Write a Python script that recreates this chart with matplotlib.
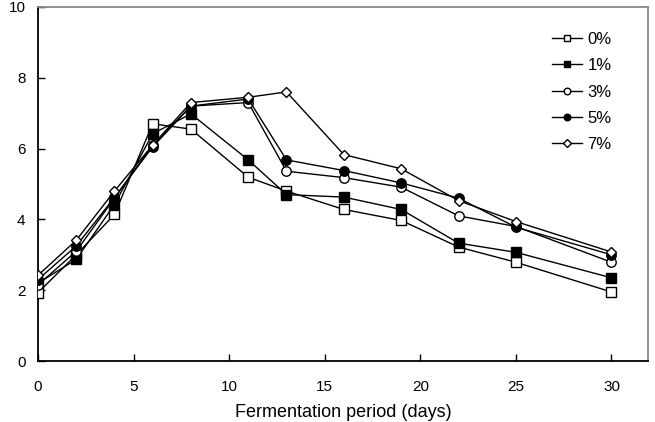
import matplotlib
matplotlib.use("Agg")
import matplotlib.pyplot as plt

plt.rcParams['font.family'] = ['Liberation Sans', 'DejaVu Sans']

days = [0, 2, 4, 6, 8, 11, 13, 16, 19, 22, 25, 30]
s0 = [1.93, 3.0, 4.14, 6.7, 6.55, 5.19, 4.8, 4.28, 3.97, 3.22, 2.79, 1.95]
s1 = [2.2, 2.87, 4.42, 6.42, 6.98, 5.68, 4.7, 4.63, 4.28, 3.33, 3.07, 2.35]
s3 = [2.15, 3.1, 4.6, 6.1, 7.2, 7.3, 5.36, 5.18, 4.91, 4.1, 3.8, 2.79]
s5 = [2.3, 3.25, 4.62, 6.05, 7.2, 7.4, 5.68, 5.38, 5.03, 4.6, 3.78, 3.0]
s7 = [2.42, 3.41, 4.8, 6.1, 7.3, 7.45, 7.6, 5.83, 5.43, 4.53, 3.94, 3.08]
labels = ['0%', '1%', '3%', '5%', '7%']
xticks = [0, 5, 10, 15, 20, 25, 30]
yticks = [0, 2, 4, 6, 8, 10]

fig = plt.figure(figsize=(6.55, 4.22), dpi=100)
ax = fig.add_axes([0.058, 0.1445, 0.931, 0.839])

styles = [
    dict(marker='s', mfc='white', ms=6.8),
    dict(marker='s', mfc='black', ms=6.8),
    dict(marker='o', mfc='white', ms=6.8),
    dict(marker='o', mfc='black', ms=6.8),
    dict(marker='D', mfc='white', ms=5.2),
]
for ys, lab, st in zip([s0, s1, s3, s5, s7], labels, styles):
    ax.plot(days, ys, color='black', lw=1.0, mec='black', mew=1.0, label=lab,
            zorder=3, **st)

ax.set_xlim(0, 31.9)
ax.set_ylim(0, 10)
ax.set_xticks(xticks)
ax.set_yticks(yticks)
ax.tick_params(direction='in', length=5, width=1, labelsize=11, colors='black')
ax.tick_params(axis='x', pad=14)
ax.tick_params(axis='y', pad=9)
for sp in ['top', 'right']:
    ax.spines[sp].set_color('#888888')
    ax.spines[sp].set_linewidth(1.3)
for sp in ['left', 'bottom']:
    ax.spines[sp].set_linewidth(1.3)
ax.set_xlabel('Fermentation period (days)', fontsize=13, labelpad=7)

leg = ax.legend(loc='upper right', bbox_to_anchor=(0.965, 0.972), frameon=False,
                fontsize=12, handlelength=1.8, handletextpad=0.3,
                labelspacing=0.68, markerscale=0.7)
fig.savefig('out.png', dpi=100)
